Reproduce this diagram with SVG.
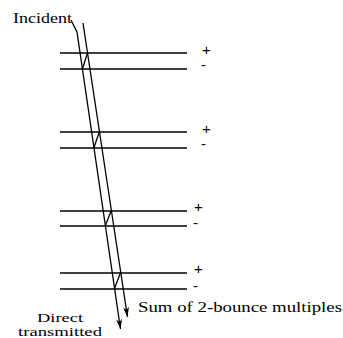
<svg xmlns="http://www.w3.org/2000/svg" width="343" height="338" viewBox="0 0 343 338">
<style>
.l{stroke:#000;stroke-width:1.5;fill:none}
.b{stroke:#000;stroke-width:1.3;fill:none}
.t{font-family:"Liberation Serif",serif;font-size:14px;fill:#000}
.u{font-family:"Liberation Serif",serif;font-size:12.5px;fill:#000}
.s{font-family:"Liberation Sans",sans-serif;font-size:15px;fill:#000}
</style>
<defs>
<marker id="ah" viewBox="0 0 10 6" refX="10" refY="3" markerWidth="10" markerHeight="6" markerUnits="userSpaceOnUse" orient="auto">
<path d="M0,0 L10,3 L0,6 L3,3 Z" fill="#000"/>
</marker>
</defs>
<rect width="343" height="338" fill="#fff"/>
<g id="interfaces">
<line class="l" x1="60" y1="53" x2="187" y2="53"/>
<line class="l" x1="60" y1="69" x2="187" y2="69"/>
<line class="l" x1="60" y1="132" x2="187" y2="132"/>
<line class="l" x1="60" y1="148" x2="187" y2="148"/>
<line class="l" x1="60" y1="211" x2="187" y2="211"/>
<line class="l" x1="60" y1="226" x2="187" y2="226"/>
<line class="l" x1="60" y1="273" x2="187" y2="273"/>
<line class="l" x1="60" y1="289" x2="187" y2="289"/>
</g>
<g id="signs">
<text class="s" x="202" y="55">+</text>
<text class="s" x="201" y="70">-</text>
<text class="s" x="202" y="134">+</text>
<text class="s" x="201" y="149">-</text>
<text class="s" x="194" y="212">+</text>
<text class="s" x="193" y="228">-</text>
<text class="s" x="194" y="274">+</text>
<text class="s" x="193" y="291">-</text>
</g>
<g id="connectors">
<polyline class="b" points="71,20 77,32 120.5,329" marker-end="url(#ah)"/>
<line class="b" x1="83" y1="23" x2="127.5" y2="317" marker-end="url(#ah)"/>
<line class="b" x1="82.4" y1="69" x2="87.5" y2="53"/>
<line class="b" x1="93.8" y1="148" x2="99.3" y2="132"/>
<line class="b" x1="105.2" y1="226" x2="111.1" y2="211"/>
<line class="b" x1="114.3" y1="289" x2="120.4" y2="273"/>
</g>
<g id="labels">
<text class="t" x="13" y="23" textLength="59" lengthAdjust="spacingAndGlyphs">Incident</text>
<text class="t" x="138" y="312" textLength="204" lengthAdjust="spacingAndGlyphs">Sum of 2-bounce multiples</text>
<text class="u" x="37" y="322" textLength="46" lengthAdjust="spacingAndGlyphs">Direct</text>
<text class="u" x="18" y="336" textLength="84" lengthAdjust="spacingAndGlyphs">transmitted</text>
</g>
</svg>
